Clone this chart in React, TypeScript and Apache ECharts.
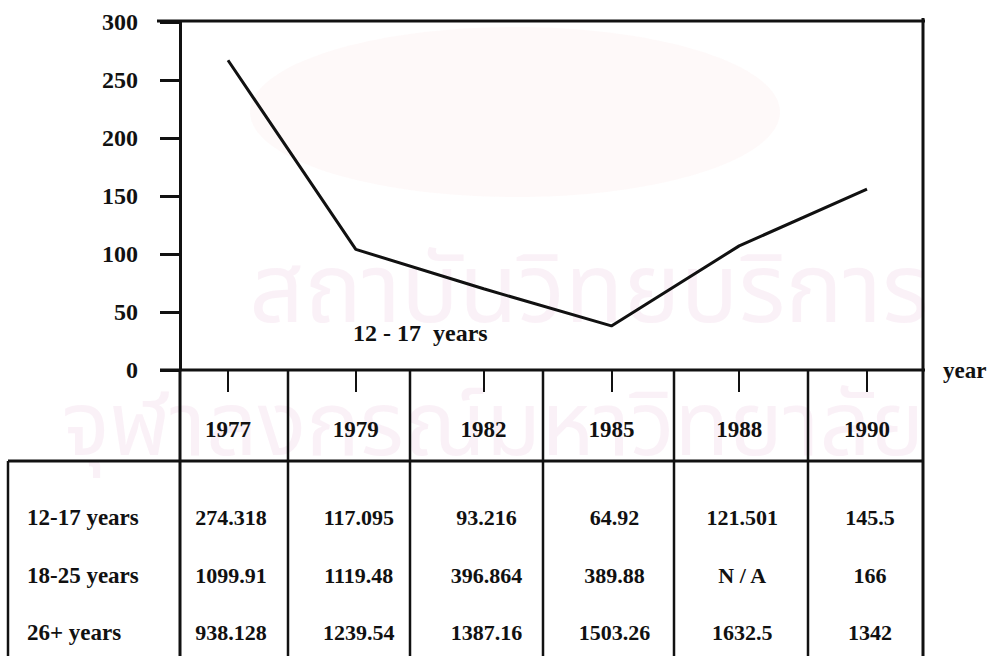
import React, { useEffect, useRef } from "react";
import * as echarts from "echarts";

// ---- data ----
const years = ["1977", "1979", "1982", "1985", "1988", "1990"];
const line1217 = [267, 104, 70, 38, 107, 156];
const yMin = 0;
const yMax = 300;
const yStep = 50;
const seriesLabel = "12 - 17  years";
const xName = "year";
const rowLabels = ["12-17 years", "18-25 years", "26+ years"];
const row1217 = ["274.318", "117.095", "93.216", "64.92", "121.501", "145.5"];
const row1825 = ["1099.91", "1119.48", "396.864", "389.88", "N / A", "166"];
const row26 = ["938.128", "1239.54", "1387.16", "1503.26", "1632.5", "1342"];
const watermark1 = "สถาบันวิทยบริการ";
const watermark2 = "จุฬาลงกรณ์มหาวิทยาลัย";

const FONT = '"Liberation Serif", "Times New Roman", serif';
const INK = "#111";

export default function App() {
  const ref = useRef<HTMLDivElement>(null);

  useEffect(() => {
    if (!ref.current) return;
    const chart = echarts.init(ref.current, undefined, { renderer: "svg" });

    chart.setOption({
      animation: false,
      backgroundColor: "#fff",
      grid: { left: 228, top: 22, width: 639, height: 348, containLabel: false },
      xAxis: {
        type: "category",
        data: years,
        boundaryGap: false,
        axisLine: { show: false },
        axisTick: { show: true, length: 22, inside: false, lineStyle: { color: INK, width: 2 } },
        axisLabel: {
          margin: 48,
          color: INK,
          fontFamily: FONT,
          fontWeight: "bold",
          fontSize: 23,
        },
        splitLine: { show: false },
        name: xName,
        nameLocation: "end",
        nameGap: 76,
        nameTextStyle: { color: INK, fontFamily: FONT, fontWeight: "bold", fontSize: 23, align: "left", verticalAlign: "middle" },
      },
      yAxis: {
        type: "value",
        min: yMin,
        max: yMax,
        interval: yStep,
        offset: 48,
        axisLine: { show: true, lineStyle: { color: INK, width: 3 } },
        axisTick: { show: true, length: 20, inside: false, lineStyle: { color: INK, width: 3 } },
        axisLabel: {
          margin: 42,
          color: INK,
          fontFamily: FONT,
          fontWeight: "bold",
          fontSize: 24,
        },
        splitLine: { show: false },
      },
      series: [
        {
          type: "line",
          data: line1217,
          symbol: "none",
          silent: true,
          lineStyle: { color: INK, width: 3 },
          z: 5,
        },
      ],
    });

    const xs = years.map((_, i) => chart.convertToPixel({ xAxisIndex: 0 }, i) as number);

    const ln = (x1: number, y1: number, x2: number, y2: number, w = 3) => ({
      type: "line",
      shape: { x1, y1, x2, y2 },
      style: { stroke: INK, lineWidth: w },
      z: 10,
      silent: true,
    });
    const txt = (text: string, x: number, y: number, size: number, align: string, color = INK, z = 10) => ({
      type: "text",
      x,
      y,
      z,
      silent: true,
      style: {
        text,
        fill: color,
        fontFamily: FONT,
        fontWeight: "bold",
        fontSize: size,
        textAlign: align,
        textVerticalAlign: "middle",
        align,
        verticalAlign: "middle",
      },
    });
    const wm = (text: string, x: number, y: number, size: number) => ({
      type: "text",
      x,
      y,
      z: 0,
      silent: true,
      style: {
        text,
        fill: "rgba(225,170,205,0.16)",
        fontFamily: '"Noto Sans Thai", "Noto Sans", "DejaVu Sans", sans-serif',
        fontSize: size,
        textAlign: "center",
        textVerticalAlign: "middle",
        align: "center",
        verticalAlign: "middle",
      },
    });

    const colBorders = [288, 410, 543, 674, 808];
    const rowYs = [517, 575, 632];
    const rows = [row1217, row1825, row26];

    const graphics: any[] = [
      // watermark
      {
        type: "ellipse",
        shape: { cx: 515, cy: 112, rx: 265, ry: 85 },
        style: { fill: "rgba(250,215,215,0.16)" },
        z: 0,
        silent: true,
      },
      wm(watermark1, 589, 292, 96),
      wm(watermark2, 493, 428, 90),
      // plot frame
      ln(157, 21, 925, 21, 3),
      ln(923, 18, 923, 656, 3),
      ln(160, 370, 925, 370, 3),
      // table
      ln(180, 370, 180, 656, 3),
      ln(8, 461, 923, 461, 3),
      ln(8, 461, 8, 656, 2.5),
      ...colBorders.map((x) => ln(x, 370, x, 656, 2.5)),
      // series label
      txt(seriesLabel, 353, 333, 24, "left"),
      // row labels
      ...rowLabels.map((l, r) => txt(l, 27, rowYs[r], 23, "left")),
      // row values
      ...rows.flatMap((row, r) => row.map((v, i) => txt(v, xs[i] + 3, rowYs[r], 22, "center"))),
    ];

    chart.setOption({ graphic: graphics });

    return () => chart.dispose();
  }, []);

  return (
    <div
      ref={ref}
      style={{ position: "absolute", left: 0, top: 0, width: 1002, height: 656, background: "#fff" }}
    />
  );
}
